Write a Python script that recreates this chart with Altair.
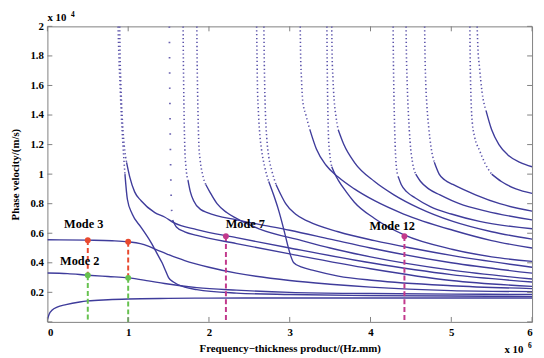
import altair as alt
import pandas as pd

# ---------------- data ----------------
# x: frequency-thickness product (x10^6 Hz.mm), y: phase velocity (x10^4 m/s)
m01_x = [0, 0.02, 0.06, 0.12, 0.23, 0.4, 0.5, 0.75, 1.0, 1.5, 2.0, 3.0, 4.0, 5.0, 6.0]
m01_y = [0.015, 0.05, 0.08, 0.1, 0.117, 0.135, 0.142, 0.15, 0.155, 0.159, 0.161, 0.162, 0.162, 0.162, 0.162]

m02_x = [0, 0.25, 0.5, 0.75, 1.0, 1.25, 1.45, 1.85, 2.34, 3.0, 4.0, 5.0, 6.0]
m02_y = [0.331, 0.327, 0.316, 0.307, 0.298, 0.278, 0.26, 0.232, 0.215, 0.2, 0.192, 0.188, 0.186]

m03_x = [0, 0.5, 0.8, 1.0, 1.15, 1.24, 1.34, 1.5, 1.7, 2.0, 2.34, 3.0, 3.5, 4.0, 5.0, 6.0]
m03_y = [0.556, 0.553, 0.549, 0.542, 0.53, 0.515, 0.49, 0.455, 0.415, 0.37, 0.33, 0.28, 0.255, 0.235, 0.212, 0.205]

m04_x = [0.875, 0.885, 0.9, 0.915, 0.935, 0.96, 0.99, 1.05, 1.16, 1.28, 1.37, 1.42, 1.46, 1.5, 1.56, 1.7, 1.85, 2.34, 3.0, 4.0, 5.0, 6.0]
m04_y = [2.0, 1.8, 1.6, 1.4, 1.2, 1.0, 0.83, 0.73, 0.64, 0.54, 0.45, 0.4, 0.35, 0.3, 0.27, 0.235, 0.218, 0.195, 0.185, 0.178, 0.175, 0.173]

m05_x = [0.895, 0.9, 0.91, 0.925, 0.95, 0.98, 1.02, 1.08, 1.16, 1.33, 1.45, 1.57, 1.85, 2.34, 3.0, 4.0, 5.0, 6.0]
m05_y = [2.0, 1.8, 1.6, 1.4, 1.2, 1.08, 0.98, 0.88, 0.82, 0.74, 0.71, 0.67, 0.625, 0.57, 0.5, 0.4, 0.32, 0.27]

m06_x = [1.51, 1.512, 1.515, 1.518, 1.522, 1.527, 1.535, 1.55, 1.6, 1.7, 1.85, 2.34, 3.0, 4.0, 5.0, 6.0]
m06_y = [2.0, 1.8, 1.6, 1.4, 1.2, 1.0, 0.8, 0.69, 0.64, 0.61, 0.585, 0.53, 0.46, 0.36, 0.28, 0.24]

m07_x = [1.68, 1.683, 1.687, 1.692, 1.7, 1.715, 1.74, 1.77, 1.81, 1.9, 1.98, 2.34, 2.62, 3.0, 3.5, 4.0, 5.0, 6.0]
m07_y = [2.0, 1.8, 1.6, 1.4, 1.2, 1.05, 0.96, 0.88, 0.82, 0.76, 0.74, 0.69, 0.66, 0.62, 0.56, 0.5, 0.4, 0.33]

m08_x = [1.85, 1.853, 1.858, 1.865, 1.875, 1.89, 1.92, 1.96, 2.01, 2.1, 2.22, 2.34, 2.62, 3.15, 3.5, 4.0, 5.0, 6.0]
m08_y = [2.0, 1.8, 1.6, 1.4, 1.2, 1.1, 1.0, 0.93, 0.88, 0.8, 0.74, 0.7, 0.63, 0.55, 0.5, 0.44, 0.35, 0.29]

m09_x = [2.59, 2.595, 2.6, 2.61, 2.625, 2.65, 2.69, 2.74, 2.8, 2.86, 2.92, 2.97, 3.01, 3.05, 3.15, 3.28, 3.6, 4.05, 5.0, 6.0]
m09_y = [2.0, 1.8, 1.6, 1.45, 1.3, 1.17, 1.05, 0.95, 0.86, 0.76, 0.64, 0.53, 0.45, 0.4, 0.37, 0.35, 0.31, 0.28, 0.245, 0.225]

m10_x = [2.68, 2.684, 2.69, 2.7, 2.715, 2.74, 2.78, 2.83, 2.9, 2.95, 3.07, 3.23, 3.6, 4.05, 4.5, 5.0, 6.0]
m10_y = [2.0, 1.8, 1.6, 1.4, 1.25, 1.12, 1.02, 0.93, 0.85, 0.8, 0.73, 0.68, 0.61, 0.55, 0.5, 0.45, 0.37]

m11_x = [3.13, 3.135, 3.145, 3.16, 3.2, 3.25, 3.33, 3.45, 3.6, 3.8, 4.05, 4.41, 5.02, 5.5, 6.0]
m11_y = [2.0, 1.8, 1.65, 1.5, 1.4, 1.3, 1.17, 1.06, 0.98, 0.9, 0.82, 0.73, 0.62, 0.55, 0.5]

m12_x = [3.46, 3.463, 3.467, 3.473, 3.48, 3.495, 3.52, 3.56, 3.6, 3.7, 3.8, 4.05, 4.41, 5.02, 5.5, 6.0]
m12_y = [2.0, 1.8, 1.6, 1.4, 1.25, 1.14, 1.05, 1.0, 0.96, 0.88, 0.81, 0.7, 0.59, 0.49, 0.44, 0.41]

m13_x = [3.52, 3.525, 3.535, 3.55, 3.57, 3.6, 3.67, 3.8, 4.05, 4.29, 4.6, 5.02, 5.5, 6.0]
m13_y = [2.0, 1.8, 1.65, 1.5, 1.4, 1.3, 1.2, 1.08, 0.95, 0.86, 0.77, 0.68, 0.61, 0.56]

m14_x = [4.28, 4.283, 4.288, 4.295, 4.305, 4.32, 4.345, 4.38, 4.45, 4.55, 4.74, 5.0, 5.35, 6.0]
m14_y = [2.0, 1.8, 1.6, 1.4, 1.2, 1.05, 0.98, 0.93, 0.88, 0.84, 0.78, 0.73, 0.68, 0.63]

m15_x = [4.44, 4.445, 4.455, 4.47, 4.49, 4.52, 4.56, 4.62, 4.72, 4.86, 5.1, 5.43, 6.0]
m15_y = [2.0, 1.8, 1.6, 1.4, 1.22, 1.08, 1.0, 0.95, 0.9, 0.86, 0.8, 0.75, 0.69]

m16_x = [4.67, 4.675, 4.685, 4.7, 4.72, 4.75, 4.79, 4.85, 4.92, 5.02, 5.3, 5.6, 6.0]
m16_y = [2.0, 1.8, 1.6, 1.45, 1.32, 1.18, 1.08, 1.0, 0.96, 0.93, 0.86, 0.8, 0.75]

m17_x = [5.23, 5.235, 5.245, 5.26, 5.29, 5.35, 5.42, 5.5, 5.62, 5.8, 6.0]
m17_y = [2.0, 1.75, 1.5, 1.35, 1.25, 1.16, 1.07, 1.0, 0.95, 0.9, 0.87]

m18_x = [5.32, 5.33, 5.35, 5.38, 5.43, 5.5, 5.59, 5.7, 5.85, 6.0]
m18_y = [2.0, 1.85, 1.72, 1.56, 1.43, 1.3, 1.2, 1.13, 1.08, 1.05]

# velocity above which each curve is drawn as sparse sampled dots
dot_above = [9, 9, 9, 1.0, 1.08, 0.69, 0.96, 0.93, 0.95, 0.93, 1.3, 1.05, 1.3, 0.98, 1.0, 1.08, 1.0, 1.43]

modes_x = [m01_x, m02_x, m03_x, m04_x, m05_x, m06_x, m07_x, m08_x, m09_x,
           m10_x, m11_x, m12_x, m13_x, m14_x, m15_x, m16_x, m17_x, m18_x]
modes_y = [m01_y, m02_y, m03_y, m04_y, m05_y, m06_y, m07_y, m08_y, m09_y,
           m10_y, m11_y, m12_y, m13_y, m14_y, m15_y, m16_y, m17_y, m18_y]

# highlighted points
red_x = [0.5, 1.0]
red_y = [0.553, 0.542]
green_x = [0.5, 1.0]
green_y = [0.316, 0.298]
mag_x = [2.21, 4.42]
mag_y = [0.58, 0.58]

label_text = ["Mode 3", "Mode 2", "Mode 7", "Mode 12"]
label_x = [0.45, 0.4, 2.45, 4.27]
label_y = [0.635, 0.385, 0.635, 0.62]

x_ticks = [0, 1, 2, 3, 4, 5, 6]
y_ticks = [0.2, 0.4, 0.6, 0.8, 1.0, 1.2, 1.4, 1.6, 1.8, 2.0]
y_tick_marks = [0, 0.2, 0.4, 0.6, 0.8, 1.0, 1.2, 1.4, 1.6, 1.8, 2.0]

# ---------------- build tables ----------------
rows = []
for i, (xs_, ys_) in enumerate(zip(modes_x, modes_y)):
    thr = dot_above[i]
    for x, y in zip(xs_, ys_):
        if y <= thr:
            rows.append({"mode": f"m{i+1}", "seg": "solid", "x": x, "y": y})
        if y >= thr:
            rows.append({"mode": f"m{i+1}", "seg": "dot", "x": x, "y": y})
curves = pd.DataFrame(rows)

W, H = 492, 300
FONT = "Liberation Serif"
LINE = "#3f3c9b"
GREY = "#808080"

xs = alt.Scale(domain=[0, 6], nice=False, zero=False)
ys = alt.Scale(domain=[0, 2], nice=False, zero=False)

x_axis = alt.Axis(values=x_ticks, format="d", title="Frequency\u2212thickness product/(Hz.mm)",
                  domain=False, ticks=False, grid=False, labelFont=FONT, labelFontWeight="bold",
                  labelFontSize=11, labelColor="black", labelPadding=5, titleFont=FONT,
                  titleFontWeight="bold", titleFontSize=11, titleColor="black", titlePadding=5)
y_axis = alt.Axis(values=y_ticks, format="~g", title="Phase velocity/(m/s)",
                  domain=False, ticks=False, grid=False, labelFont=FONT, labelFontWeight="bold",
                  labelFontSize=11, labelColor="black", labelPadding=4, titleFont=FONT,
                  titleFontWeight="bold", titleFontSize=11, titleColor="black", titlePadding=10)


def X(field="x"):
    return alt.X(f"{field}:Q", scale=xs, axis=x_axis, title="Frequency\u2212thickness product/(Hz.mm)")


def Y(field="y"):
    return alt.Y(f"{field}:Q", scale=ys, axis=y_axis, title="Phase velocity/(m/s)")


solid = alt.Chart(curves).transform_filter(alt.datum.seg == "solid").mark_line(
    color=LINE, strokeWidth=1.4, interpolate="monotone", clip=True
).encode(x=X(), y=Y(), detail="mode:N")

dots = alt.Chart(curves).transform_filter(
    (alt.datum.seg == "dot") & (alt.datum.mode != "m6")
).mark_line(
    color="#5a52aa", strokeWidth=1.6, strokeDash=[1.3, 2.6], interpolate="monotone", clip=True
).encode(x=X(), y=Y(), detail="mode:N")

sparse = alt.Chart(curves).transform_filter(
    (alt.datum.seg == "dot") & (alt.datum.mode == "m6")
).mark_line(
    color="#6a62b0", strokeWidth=1.8, strokeDash=[1.5, 14], interpolate="monotone", clip=True
).encode(x=X(), y=Y(), detail="mode:N")

# dashed verticals
red_seg = pd.DataFrame({"x": red_x, "y": red_y, "y2": green_y})
green_seg = pd.DataFrame({"x": green_x, "y": green_y, "y2": [0, 0]})
mag_seg = pd.DataFrame({"x": mag_x, "y": mag_y, "y2": [0, 0]})


def dash(df, color):
    return alt.Chart(df).mark_rule(color=color, strokeWidth=2, strokeDash=[5, 3]).encode(
        x=X(), y=Y(), y2="y2:Q")


def pts(xv, yv, color):
    return alt.Chart(pd.DataFrame({"x": xv, "y": yv})).mark_point(
        filled=True, color=color, size=36, opacity=1).encode(x=X(), y=Y())


RED = "#e8492f"
GREEN = "#66c24f"
MAG = "#c2398c"

labels = alt.Chart(pd.DataFrame({"t": label_text, "x": label_x, "y": label_y})).mark_text(
    font=FONT, fontWeight="bold", fontSize=12.5, color="black", baseline="alphabetic", align="center"
).encode(x=X(), y=Y(), text="t:N")

# inward ticks on all four sides
xt = pd.DataFrame({"x": x_ticks})
yt = pd.DataFrame({"y": y_tick_marks})
tb = alt.Chart(xt).mark_rule(color=GREY, strokeWidth=1).encode(
    x=X(), y=alt.value(H), y2=alt.value(H - 5))
tt = alt.Chart(xt).mark_rule(color=GREY, strokeWidth=1).encode(
    x=X(), y=alt.value(0), y2=alt.value(5))
tl = alt.Chart(yt).mark_rule(color=GREY, strokeWidth=1).encode(
    y=Y(), x=alt.value(0), x2=alt.value(5))
tr = alt.Chart(yt).mark_rule(color=GREY, strokeWidth=1).encode(
    y=Y(), x=alt.value(W), x2=alt.value(W - 5))


# exponent annotations
def txt(s, x, y, size):
    return alt.Chart(pd.DataFrame({"t": [s]})).mark_text(
        font=FONT, fontWeight="bold", fontSize=size, color="black", align="left", baseline="alphabetic"
    ).encode(x=alt.value(x), y=alt.value(y), text="t:N")


exp_y1 = txt("x 10", 0, -5, 11)
exp_y2 = txt("4", 24, -10, 7.5)
exp_x1 = txt("x 10", 464, H + 32, 11)
exp_x2 = txt("6", 488, H + 27, 7.5)

chart = alt.layer(
    solid, dots, sparse,
    dash(red_seg, RED), dash(green_seg, GREEN), dash(mag_seg, MAG),
    pts(red_x, red_y, RED), pts(green_x, green_y, GREEN), pts(mag_x, mag_y, MAG),
    labels, tb, tt, tl, tr, exp_y1, exp_y2, exp_x1, exp_x2,
).properties(
    width=W, height=H,
    autosize=alt.AutoSizeParams(type="none"),
    padding={"left": 40, "top": 16, "right": 4, "bottom": 34},
    background="white",
).configure_view(stroke=GREY, strokeWidth=1)

chart.save("out.html", embed_options={"renderer": "svg", "actions": False})
